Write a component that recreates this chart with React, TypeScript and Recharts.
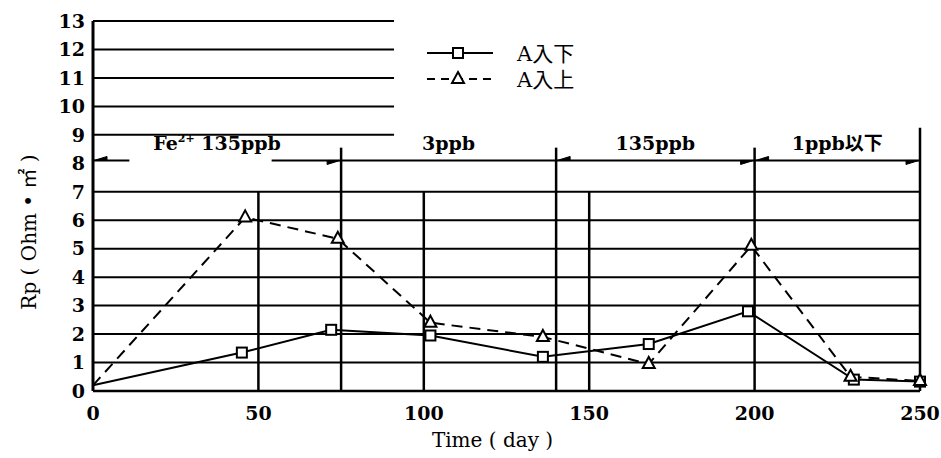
import React from 'react';
import { LineChart, Line, XAxis, YAxis, ReferenceLine, ReferenceDot, Legend } from 'recharts';

// A入下 (solid, square markers)
const lowerDays = [0, 45, 72, 102, 136, 168, 198, 230, 250];
const lowerRp = [0.2, 1.35, 2.15, 1.95, 1.2, 1.65, 2.8, 0.4, 0.33];
// A入上 (dashed, triangle markers)
const upperDays = [0, 46, 74, 102, 136, 168, 199, 229, 250];
const upperRp = [0.2, 6.1, 5.35, 2.4, 1.9, 0.95, 5.1, 0.5, 0.35];

const xTicks = [0, 50, 100, 150, 200, 250];
const yTicks = [0, 1, 2, 3, 4, 5, 6, 7, 8, 9, 10, 11, 12, 13];

const fullGridY = [1, 2, 3, 4, 5, 6, 7];
const shortGridY = [9, 10, 11, 12, 13];
const shortGridEnd = 91;

const dividerDays = [50, 75, 100, 140, 150, 200, 250];
const dividerTops = [7, 8.55, 7, 8.55, 7, 8.55, 9.25];

const periodLabels = ['135ppb', '3ppb', '135ppb', '1ppb以下'];
const periodStart = [0, 75, 140, 200];
const periodEnd = [75, 140, 200, 250];
const periodGapFrom = [11, null, null, null];
const periodGapTo = [54, null, null, null];
const periodArrowStart = [true, false, true, true];
const periodArrowEnd = [true, false, true, true];
const periodLevel = 8.1;

const lowerData = lowerDays.map((d, i) => ({ day: d, rp: lowerRp[i] }));
const upperData = upperDays.map((d, i) => ({ day: d, rp: upperRp[i] }));

const serif = 'DejaVu Serif, Noto Sans CJK JP, serif';
const labelFont = { fontFamily: serif, fontSize: 19, fontWeight: 'bold' as const, fill: '#000' };
const plainFont = { fontFamily: serif, fontSize: 20, fontWeight: 'normal' as const, fill: '#000' };

const SquareDot = (p: any) =>
  p.index === 0 ? <g key={p.index} /> : (
    <rect key={p.index} x={p.cx - 5} y={p.cy - 5} width={10} height={10} fill="#fff" stroke="#000" strokeWidth={2} />
  );

const TriangleDot = (p: any) =>
  p.index === 0 ? <g key={p.index} /> : (
    <path key={p.index} d={`M${p.cx},${p.cy - 7} L${p.cx + 6},${p.cy + 4} L${p.cx - 6},${p.cy + 4} Z`} fill="#fff" stroke="#000" strokeWidth={2} />
  );

const arrowShape = (startArrow: boolean, endArrow: boolean) => (p: any) => {
  const { x1, y1, x2, y2 } = p;
  return (
    <g>
      <line x1={x1} y1={y1} x2={x2} y2={y2} stroke="#000" strokeWidth={2} />
      {startArrow && <path d={`M${x1 + 1},${y1} l13,-4 l0,4 z`} fill="#000" stroke="#000" strokeWidth={1} />}
      {endArrow && <path d={`M${x2 - 1},${y2} l-13,4 l0,-4 z`} fill="#000" stroke="#000" strokeWidth={1} />}
    </g>
  );
};

const LegendBox = () => (
  <svg width={200} height={56}>
    <line x1={7} y1={13} x2={73} y2={13} stroke="#000" strokeWidth={2} />
    <rect x={33} y={8} width={10} height={10} fill="#fff" stroke="#000" strokeWidth={2} />
    <text x={97} y={21} {...plainFont} fontSize={21}>A入下</text>
    <line x1={7} y1={39} x2={73} y2={39} stroke="#000" strokeWidth={2} strokeDasharray="8 6" />
    <path d="M38,32 L44,43 L32,43 Z" fill="#fff" stroke="#000" strokeWidth={2} />
    <text x={97} y={47} {...plainFont} fontSize={21}>A入上</text>
  </svg>
);

const YLabel = ({ viewBox }: any) => (
  <text
    transform={`translate(${viewBox.x + 36},${viewBox.y + viewBox.height / 2 + 26}) rotate(-90)`}
    textAnchor="middle"
    {...plainFont}
  >
    Rp ( Ohm • ㎡ )
  </text>
);

const XLabel = ({ viewBox }: any) => (
  <text x={viewBox.x + viewBox.width / 2 - 14} y={viewBox.y + 56} textAnchor="middle" {...plainFont}>
    Time ( day )
  </text>
);

export default function App() {
  return (
    <div style={{ position: 'absolute', left: 0, top: 0, background: '#fff' }}>
      <LineChart width={941} height={458} margin={{ top: 21, right: 21, left: 0, bottom: 37 }}>
        <XAxis
          type="number"
          dataKey="day"
          domain={[0, 250]}
          ticks={xTicks}
          interval={0}
          tickLine={false}
          tickMargin={10}
          height={30}
          axisLine={{ stroke: '#000', strokeWidth: 2.5 }}
          tick={labelFont}
          label={XLabel}
        />
        <YAxis
          type="number"
          domain={[0, 13]}
          ticks={yTicks}
          interval={0}
          width={93}
          tickLine={false}
          axisLine={{ stroke: '#000', strokeWidth: 3 }}
          tick={labelFont}
          label={YLabel}
        />
        {fullGridY.map((v) => (
          <ReferenceLine key={`g${v}`} y={v} stroke="#000" strokeWidth={2} />
        ))}
        {shortGridY.map((v) => (
          <ReferenceLine key={`s${v}`} segment={[{ x: 0, y: v }, { x: shortGridEnd, y: v }]} stroke="#000" strokeWidth={2} />
        ))}
        {dividerDays.map((d, i) => (
          <ReferenceLine key={`d${d}`} segment={[{ x: d, y: 0 }, { x: d, y: dividerTops[i] }]} stroke="#000" strokeWidth={2.5} />
        ))}
        {periodLabels.map((_, i) => {
          const gf = periodGapFrom[i];
          const gt = periodGapTo[i];
          if (gf !== null && gt !== null) {
            return (
              <React.Fragment key={`p${i}`}>
                <ReferenceLine
                  segment={[{ x: periodStart[i], y: periodLevel }, { x: gf, y: periodLevel }]}
                  shape={arrowShape(periodArrowStart[i], false)}
                />
                <ReferenceLine
                  segment={[{ x: gt, y: periodLevel }, { x: periodEnd[i], y: periodLevel }]}
                  shape={arrowShape(false, periodArrowEnd[i])}
                />
              </React.Fragment>
            );
          }
          return (
            <ReferenceLine
              key={`p${i}`}
              segment={[{ x: periodStart[i], y: periodLevel }, { x: periodEnd[i], y: periodLevel }]}
              shape={arrowShape(periodArrowStart[i], periodArrowEnd[i])}
            />
          );
        })}
        {periodLabels.map((lab, i) => (
          <ReferenceDot
            key={`l${i}`}
            x={(periodStart[i] + periodEnd[i]) / 2}
            y={periodLevel}
            r={0}
            shape={(p: any) => (
              <text x={p.cx} y={p.cy - 10} textAnchor="middle" {...labelFont}>
                {i === 0 ? (
                  <>
                    <tspan>Fe</tspan>
                    <tspan dy={-8} fontSize={11}>2+</tspan>
                    <tspan dy={8}>{'  ' + lab}</tspan>
                  </>
                ) : (
                  lab
                )}
              </text>
            )}
          />
        ))}
        <Line
          data={lowerData}
          dataKey="rp"
          name="A入下"
          type="linear"
          stroke="#000"
          strokeWidth={2}
          dot={SquareDot}
          activeDot={false}
          isAnimationActive={false}
        />
        <Line
          data={upperData}
          dataKey="rp"
          name="A入上"
          type="linear"
          stroke="#000"
          strokeWidth={2}
          strokeDasharray="11 7"
          dot={TriangleDot}
          activeDot={false}
          isAnimationActive={false}
        />
        <Legend
          layout="vertical"
          align="center"
          verticalAlign="middle"
          content={LegendBox}
          wrapperStyle={{ top: 40, left: 420, width: 200, height: 56 }}
        />
      </LineChart>
    </div>
  );
}
